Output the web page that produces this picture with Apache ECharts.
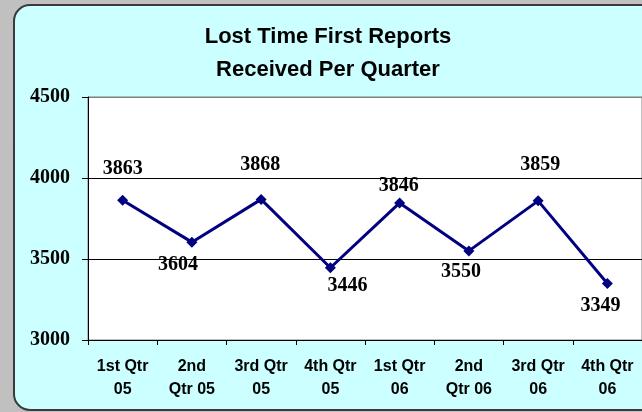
<!DOCTYPE html>
<html>
<head>
<meta charset="utf-8">
<script src="https://cdn.jsdelivr.net/npm/echarts@6/dist/echarts.min.js"></script>
<style>
html,body{margin:0;padding:0;background:#c0c0c0;}
#chart{width:642px;height:412px;}
</style>
</head>
<body>
<div id="chart"></div>
<script>
const categories = ['1st Qtr\n05','2nd\nQtr 05','3rd Qtr\n05','4th Qtr\n05','1st Qtr\n06','2nd\nQtr 06','3rd Qtr\n06','4th Qtr\n06'];
const values = [3863, 3604, 3868, 3446, 3846, 3550, 3859, 3349];
const labelOffsets = [[0,-31],[-14,23],[-1,-35],[17,18],[-1,-17],[-8,21],[2,-36],[-7,22]];
const yMin = 3000, yMax = 4500, yStep = 500;
const titleText = 'Lost Time First Reports\nReceived Per Quarter';

const chart = echarts.init(document.getElementById('chart'), null, {renderer:'canvas'});
chart.setOption({
  backgroundColor: '#c0c0c0',
  animation: false,
  graphic: [{
    type: 'rect', z: -10,
    shape: {x: 14, y: 5, width: 680, height: 405, r: 16},
    style: {fill: '#ccffff', stroke: '#3a3a3a', lineWidth: 2}
  }],
  title: {
    text: titleText,
    left: 323, top: 15, textAlign: 'center',
    textStyle: {fontFamily: 'Liberation Sans', fontWeight: 'bold', fontSize: 22, lineHeight: 33, color: '#000'}
  },
  grid: {
    left: 88, top: 97, width: 565, height: 243,
    show: true, backgroundColor: '#ffffff', borderColor: '#808080', borderWidth: 1
  },
  xAxis: {
    type: 'category', data: categories, boundaryGap: true,
    axisLine: {lineStyle: {color: '#000', width: 1}},
    axisTick: {show: true, inside: false, length: 5, lineStyle: {color: '#000'}},
    axisLabel: {
      interval: 0, margin: 15,
      fontFamily: 'Liberation Sans', fontWeight: 'bold', fontSize: 16, lineHeight: 23, color: '#000'
    }
  },
  yAxis: {
    type: 'value', min: yMin, max: yMax, interval: yStep,
    axisLine: {show: true, lineStyle: {color: '#000', width: 1}},
    axisTick: {show: true, inside: false, length: 6, lineStyle: {color: '#000'}},
    axisLabel: {margin: 18, formatter: v => String(v), fontFamily: 'Liberation Serif', fontWeight: 'bold', fontSize: 20, color: '#000'},
    splitLine: {show: true, lineStyle: {color: ['#000','#000','#000','#808080'], width: 1}}
  },
  series: [{
    type: 'line',
    data: values.map((v, i) => ({value: v, label: {offset: labelOffsets[i]}})),
    symbol: 'diamond', symbolSize: 11,
    lineStyle: {color: '#000080', width: 3},
    itemStyle: {color: '#000080'},
    label: {
      show: true, position: 'inside',
      fontFamily: 'Liberation Serif', fontWeight: 'bold', fontSize: 20, color: '#000'
    }
  }]
});
</script>
</body>
</html>
